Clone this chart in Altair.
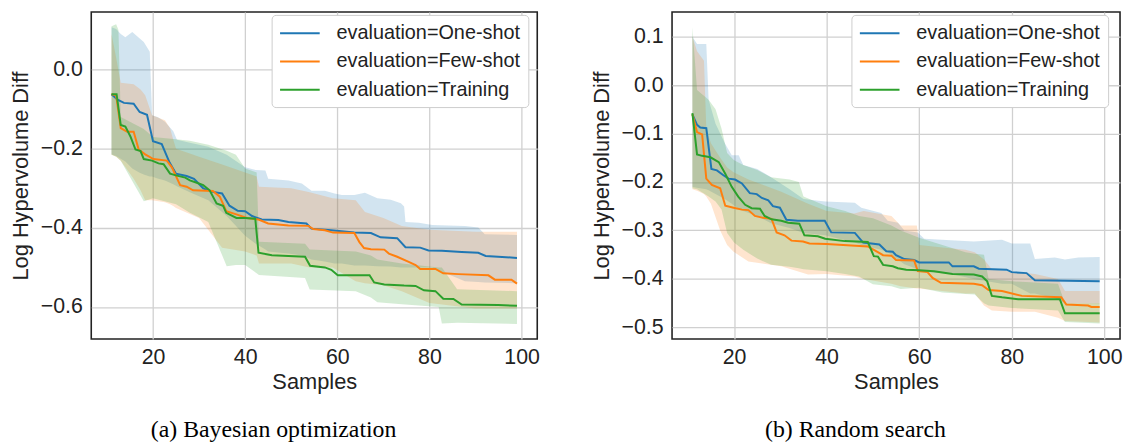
import altair as alt
import pandas as pd

SERIES = ["evaluation=One-shot", "evaluation=Few-shot", "evaluation=Training"]
COLORS = ["#1f77b4", "#ff7f0e", "#2ca02c"]
X_TICKS = [20, 40, 60, 80, 100]
Y_TICKS_A = [-0.6, -0.4, -0.2, 0.0]
Y_TICKS_B = [-0.5, -0.4, -0.3, -0.2, -0.1, 0.0, 0.1]
CAPTION_A = "(a) Bayesian optimization"
CAPTION_B = "(b) Random search"

# ---------------- (a) Bayesian optimization: mean lines ----------------
a_one_x = [11, 12.3, 13.7, 15.8, 17.1, 18.7, 20, 21.9, 23.6, 25, 27.3, 28.9, 30.9, 33, 35, 36.6, 38.4, 40, 41.5, 43.6, 47.2, 49.4, 53.3, 54.4, 58.7, 63.7, 67.3, 69.4, 73, 74.8, 78, 79.8, 82.7, 87, 90.6, 92.2, 94.9, 99]
a_one_y = [-0.062, -0.076, -0.084, -0.086, -0.107, -0.114, -0.181, -0.188, -0.235, -0.263, -0.269, -0.276, -0.30, -0.309, -0.313, -0.344, -0.357, -0.358, -0.37, -0.379, -0.38, -0.385, -0.389, -0.402, -0.406, -0.412, -0.413, -0.424, -0.426, -0.449, -0.450, -0.457, -0.458, -0.461, -0.463, -0.471, -0.473, -0.476]
a_few_x = [11, 12, 13, 14.4, 15.8, 16.9, 18.3, 20.1, 23, 24.1, 25.9, 27.3, 28.7, 33, 34.5, 35.9, 38.1, 40.4, 42.9, 45, 49.4, 53.7, 54.8, 57.3, 59.1, 63.7, 64.8, 65.8, 67.3, 70.2, 71.2, 73, 75.5, 77, 78, 81.3, 83, 86.3, 92.8, 94.2, 97.8, 99]
a_few_y = [-0.062, -0.065, -0.148, -0.157, -0.157, -0.202, -0.214, -0.226, -0.23, -0.247, -0.292, -0.296, -0.305, -0.307, -0.321, -0.358, -0.366, -0.375, -0.379, -0.389, -0.394, -0.395, -0.403, -0.406, -0.412, -0.413, -0.436, -0.451, -0.454, -0.455, -0.465, -0.473, -0.486, -0.494, -0.504, -0.504, -0.515, -0.517, -0.52, -0.531, -0.531, -0.541]
a_tr_x = [11, 12.1, 13, 14, 15.1, 16.2, 17.3, 18, 19.8, 21.2, 22.3, 23.7, 25.2, 27, 28, 29.5, 30.9, 32.3, 33.8, 35.2, 35.9, 38.1, 40, 42.2, 42.9, 45.8, 49.4, 53, 54.1, 57.3, 58.7, 60.1, 67, 68, 70.2, 74.5, 77, 78.8, 81.3, 83, 85.2, 87, 94.9, 99]
a_tr_y = [-0.062, -0.062, -0.14, -0.144, -0.169, -0.202, -0.206, -0.226, -0.23, -0.237, -0.239, -0.263, -0.268, -0.273, -0.28, -0.286, -0.292, -0.305, -0.338, -0.344, -0.362, -0.375, -0.375, -0.377, -0.463, -0.469, -0.471, -0.473, -0.496, -0.5, -0.506, -0.52, -0.52, -0.538, -0.543, -0.546, -0.547, -0.558, -0.56, -0.579, -0.58, -0.594, -0.595, -0.597]

# ---------------- (a) bands ----------------
a_one_bx = [11, 12, 13, 14, 15.5, 17, 18, 19.3, 19.8, 21, 22.6, 24.4, 25.2, 28, 32, 36, 40, 42.3, 44.4, 45, 49.4, 52.3, 54.4, 57.3, 59.4, 61, 63.7, 66, 68.7, 71.6, 73.8, 74.5, 74.8, 77.7, 80.6, 87.7, 90.6, 92, 99]
a_one_hi = [0.107, 0.103, 0.09, 0.082, 0.095, 0.08, 0.07, 0.045, -0.115, -0.12, -0.132, -0.156, -0.177, -0.185, -0.195, -0.215, -0.247, -0.254, -0.255, -0.276, -0.28, -0.288, -0.306, -0.306, -0.313, -0.317, -0.317, -0.311, -0.325, -0.329, -0.338, -0.346, -0.385, -0.387, -0.393, -0.395, -0.399, -0.416, -0.418]
a_one_lo = [-0.214, -0.218, -0.225, -0.232, -0.25, -0.26, -0.265, -0.27, -0.27, -0.275, -0.28, -0.29, -0.295, -0.31, -0.33, -0.37, -0.42, -0.44, -0.455, -0.46, -0.465, -0.47, -0.48, -0.485, -0.49, -0.49, -0.495, -0.495, -0.497, -0.498, -0.5, -0.5, -0.5, -0.5, -0.5, -0.535, -0.537, -0.538, -0.54]
a_few_bx = [11, 12, 13, 15.8, 17.3, 18.3, 19.8, 22.6, 23.7, 24.4, 25, 30, 35, 40, 42.5, 43, 50, 54, 59, 64, 66, 70, 74, 80, 90, 99]
a_few_hi = [0.09, 0.03, -0.033, -0.037, -0.05, -0.065, -0.115, -0.128, -0.148, -0.177, -0.2, -0.22, -0.24, -0.26, -0.27, -0.296, -0.30, -0.31, -0.325, -0.33, -0.36, -0.375, -0.395, -0.405, -0.41, -0.41]
a_few_lo = [-0.215, -0.22, -0.23, -0.276, -0.305, -0.33, -0.33, -0.335, -0.34, -0.345, -0.35, -0.375, -0.45, -0.46, -0.47, -0.49, -0.49, -0.50, -0.50, -0.535, -0.54, -0.545, -0.56, -0.59, -0.604, -0.604]
a_tr_bx = [11, 12, 12.5, 13, 18, 20, 25, 28, 32, 36, 38, 40, 42.5, 43, 53, 54, 64, 67.3, 68.7, 74, 82, 82.7, 86, 99]
a_tr_hi = [0.11, 0.115, 0.1, -0.12, -0.15, -0.17, -0.176, -0.18, -0.19, -0.205, -0.215, -0.25, -0.26, -0.435, -0.44, -0.455, -0.46, -0.47, -0.48, -0.49, -0.50, -0.50, -0.555, -0.56]
a_tr_lo = [-0.215, -0.22, -0.225, -0.23, -0.333, -0.325, -0.34, -0.362, -0.385, -0.497, -0.494, -0.494, -0.515, -0.519, -0.527, -0.556, -0.56, -0.576, -0.588, -0.593, -0.60, -0.642, -0.64, -0.643]

# ---------------- (b) Random search: mean lines ----------------
b_one_x = [11, 12, 12.7, 14, 15.1, 16.3, 17.7, 18.8, 20.2, 21.7, 23.4, 24.9, 26, 27.4, 28.4, 29.9, 31.3, 33.8, 39.6, 41, 46.1, 47.9, 51.4, 52.9, 54.3, 55, 56.8, 58.9, 60, 66.4, 67.2, 71.8, 72.9, 78.9, 80, 83.2, 85, 99]
b_one_y = [-0.0605, -0.082, -0.0875, -0.089, -0.173, -0.176, -0.186, -0.193, -0.195, -0.203, -0.223, -0.225, -0.233, -0.238, -0.25, -0.253, -0.278, -0.28, -0.28, -0.304, -0.305, -0.325, -0.329, -0.343, -0.344, -0.351, -0.359, -0.361, -0.366, -0.366, -0.374, -0.374, -0.379, -0.381, -0.386, -0.388, -0.403, -0.405]
b_few_x = [11, 12, 13.1, 14, 15.2, 17, 18.1, 19.9, 21.7, 23.1, 24.5, 26.3, 28.1, 29.2, 30.9, 32.4, 34.9, 36.3, 40, 48.9, 50.4, 52.2, 54, 55, 58.9, 59.7, 61.8, 62.9, 64.7, 71.8, 73.6, 75, 77.9, 82.2, 90.7, 91.8, 96.5, 97.2, 99]
b_few_y = [-0.06, -0.097, -0.102, -0.193, -0.206, -0.213, -0.249, -0.253, -0.257, -0.258, -0.27, -0.274, -0.276, -0.304, -0.31, -0.321, -0.323, -0.327, -0.328, -0.333, -0.341, -0.351, -0.352, -0.361, -0.362, -0.384, -0.386, -0.398, -0.408, -0.41, -0.413, -0.423, -0.425, -0.435, -0.438, -0.453, -0.455, -0.458, -0.458]
b_tr_x = [11, 12, 13.1, 14.9, 16.7, 18.1, 19.5, 20.9, 22.4, 23.8, 25.6, 26.6, 28.1, 30.2, 31.7, 34.1, 35.2, 38.1, 39.7, 43.9, 48.9, 50.2, 51.1, 52.2, 54.3, 55.4, 57.2, 60, 63.2, 67.2, 71.8, 73.6, 74.7, 75.7, 77.9, 81.4, 90.4, 91.5, 99]
b_tr_y = [-0.058, -0.143, -0.146, -0.149, -0.159, -0.183, -0.21, -0.23, -0.247, -0.254, -0.255, -0.27, -0.277, -0.28, -0.284, -0.286, -0.31, -0.312, -0.317, -0.322, -0.324, -0.353, -0.354, -0.371, -0.374, -0.378, -0.381, -0.382, -0.384, -0.39, -0.391, -0.395, -0.405, -0.435, -0.438, -0.442, -0.442, -0.471, -0.471]

# ---------------- (b) bands ----------------
b_one_bx = [11, 12, 14, 14.5, 16, 18, 19.5, 21, 22, 25, 28, 32, 35, 39.7, 46.1, 47.5, 51.8, 53.2, 55.4, 56.8, 59.7, 61.1, 66.8, 71.8, 77.9, 80, 84, 85, 89.3, 91.5, 94.4, 99]
b_one_hi = [0.10, 0.085, 0.085, -0.03, -0.08, -0.12, -0.145, -0.145, -0.165, -0.173, -0.19, -0.215, -0.235, -0.24, -0.243, -0.253, -0.264, -0.28, -0.284, -0.30, -0.304, -0.317, -0.32, -0.323, -0.319, -0.327, -0.327, -0.359, -0.356, -0.36, -0.356, -0.355]
b_one_lo = [-0.21, -0.212, -0.215, -0.217, -0.225, -0.235, -0.245, -0.255, -0.26, -0.27, -0.285, -0.295, -0.305, -0.31, -0.325, -0.33, -0.34, -0.345, -0.36, -0.37, -0.38, -0.385, -0.39, -0.40, -0.41, -0.41, -0.43, -0.43, -0.44, -0.45, -0.45, -0.451]
b_few_bx = [11, 12, 13.5, 14, 15, 17, 18.5, 19.9, 23.1, 30.2, 36, 40, 46, 48, 54, 56, 59.5, 60, 65, 70, 72, 74, 75.7, 80, 85, 90, 91.5, 99]
b_few_hi = [0.10, 0.07, 0.05, -0.09, -0.12, -0.15, -0.17, -0.18, -0.195, -0.22, -0.245, -0.26, -0.265, -0.26, -0.27, -0.29, -0.29, -0.33, -0.335, -0.34, -0.345, -0.36, -0.38, -0.385, -0.39, -0.40, -0.425, -0.425]
b_few_lo = [-0.215, -0.218, -0.225, -0.23, -0.245, -0.30, -0.33, -0.344, -0.364, -0.374, -0.391, -0.39, -0.395, -0.40, -0.41, -0.415, -0.42, -0.42, -0.425, -0.43, -0.43, -0.455, -0.465, -0.468, -0.468, -0.48, -0.487, -0.49]
b_tr_bx = [11, 12, 14.5, 16, 17.3, 18.5, 20, 22, 25, 28, 32, 34, 35, 40, 44, 47, 50, 54, 56, 60, 65, 70, 72, 74, 75, 80, 90, 91.5, 99]
b_tr_hi = [0.12, -0.01, -0.03, -0.05, -0.09, -0.14, -0.155, -0.165, -0.175, -0.19, -0.195, -0.2, -0.23, -0.25, -0.26, -0.27, -0.275, -0.29, -0.30, -0.315, -0.33, -0.345, -0.348, -0.35, -0.40, -0.405, -0.41, -0.45, -0.45]
b_tr_lo = [-0.213, -0.215, -0.23, -0.24, -0.257, -0.305, -0.325, -0.34, -0.358, -0.371, -0.375, -0.378, -0.38, -0.384, -0.39, -0.395, -0.411, -0.415, -0.421, -0.418, -0.428, -0.431, -0.432, -0.45, -0.455, -0.46, -0.465, -0.489, -0.492]

FONT = "Liberation Sans"
SERIF = "Liberation Serif"
TXT = "#222222"


def lines_df(parts):
    rows = []
    for name, xs, ys in parts:
        for xv, yv in zip(xs, ys):
            rows.append({"x": xv, "y": yv, "series": name})
    return pd.DataFrame(rows)


def bands_df(parts):
    rows = []
    for name, xs, lo, hi in parts:
        for xv, l, h in zip(xs, lo, hi):
            rows.append({"x": xv, "lo": l, "hi": h, "band": name})
    return pd.DataFrame(rows)


def panel(ldf, bdf, ydomain, yticks, caption, width, height, legend_x):
    xscale = alt.Scale(domain=[6.6, 103.4], nice=False, zero=False)
    yscale = alt.Scale(domain=ydomain, nice=False, zero=False)
    cscale = alt.Scale(domain=SERIES, range=COLORS)
    xaxis = alt.Axis(values=X_TICKS, title="Samples", format="d", grid=True,
                     ticks=False, domain=False, labelPadding=8, titlePadding=3)
    yaxis = alt.Axis(values=yticks, title="Log Hypervolume Diff", format=".1f",
                     grid=True, ticks=False, domain=False, labelPadding=9,
                     titlePadding=8)
    layers = []
    for k, name in enumerate(SERIES):
        sub = bdf[bdf["band"] == name]
        layers.append(
            alt.Chart(sub).mark_area(opacity=0.2, color=COLORS[k]).encode(
                x=alt.X("x:Q", scale=xscale, axis=xaxis),
                y=alt.Y("lo:Q", scale=yscale, axis=yaxis, stack=None),
                y2="hi:Q",
            )
        )
    lines = alt.Chart(ldf).mark_line(strokeWidth=2).encode(
        x=alt.X("x:Q", scale=xscale),
        y=alt.Y("y:Q", scale=yscale),
        color=alt.Color("series:N", scale=cscale, sort=SERIES,
                        legend=alt.Legend(title=None, orient="none",
                                          legendX=legend_x, legendY=3,
                                          symbolType="M-1,0H3", symbolStrokeWidth=2,
                                          symbolSize=400, labelFontSize=20,
                                          labelFont=FONT, labelColor=TXT,
                                          labelOffset=36, labelLimit=400,
                                          rowPadding=7.5, padding=7.5,
                                          strokeColor="#cccccc",
                                          fillColor="white",
                                          cornerRadius=4)),
    )
    layers.append(lines)
    return alt.layer(*layers).properties(
        width=width, height=height,
        title=alt.Title(caption, orient="bottom", font=SERIF, fontSize=24,
                        fontWeight="normal", color="black", dx=-41, offset=26),
    )


ldf_a = lines_df([(SERIES[0], a_one_x, a_one_y), (SERIES[1], a_few_x, a_few_y), (SERIES[2], a_tr_x, a_tr_y)])
bdf_a = bands_df([(SERIES[0], a_one_bx, a_one_lo, a_one_hi), (SERIES[1], a_few_bx, a_few_lo, a_few_hi), (SERIES[2], a_tr_bx, a_tr_lo, a_tr_hi)])
ldf_b = lines_df([(SERIES[0], b_one_x, b_one_y), (SERIES[1], b_few_x, b_few_y), (SERIES[2], b_tr_x, b_tr_y)])
bdf_b = bands_df([(SERIES[0], b_one_bx, b_one_lo, b_one_hi), (SERIES[1], b_few_bx, b_few_lo, b_few_hi), (SERIES[2], b_tr_bx, b_tr_lo, b_tr_hi)])

left = panel(ldf_a, bdf_a, [-0.681, 0.146], Y_TICKS_A, CAPTION_A, 450, 330, 182)
right = panel(ldf_b, bdf_b, [-0.524, 0.151], Y_TICKS_B, CAPTION_B, 452, 330, 181)

chart = alt.hconcat(left, right, spacing=49).resolve_scale(
    color="independent"
).resolve_legend(color="independent").properties(
    padding={"top": 1, "left": 0, "right": 0, "bottom": 0}
).configure_view(
    stroke="#222222", strokeWidth=1.6
).configure_axis(
    labelFont=FONT, labelFontSize=21.5, labelColor=TXT,
    titleFont=FONT, titleFontSize=22, titleColor=TXT, titleFontWeight="normal",
    gridColor="#d0d0d0", gridWidth=1.3,
).configure_legend(
    labelFont=FONT
)

chart.save("out.html", embed_options={"renderer": "svg", "actions": False})
